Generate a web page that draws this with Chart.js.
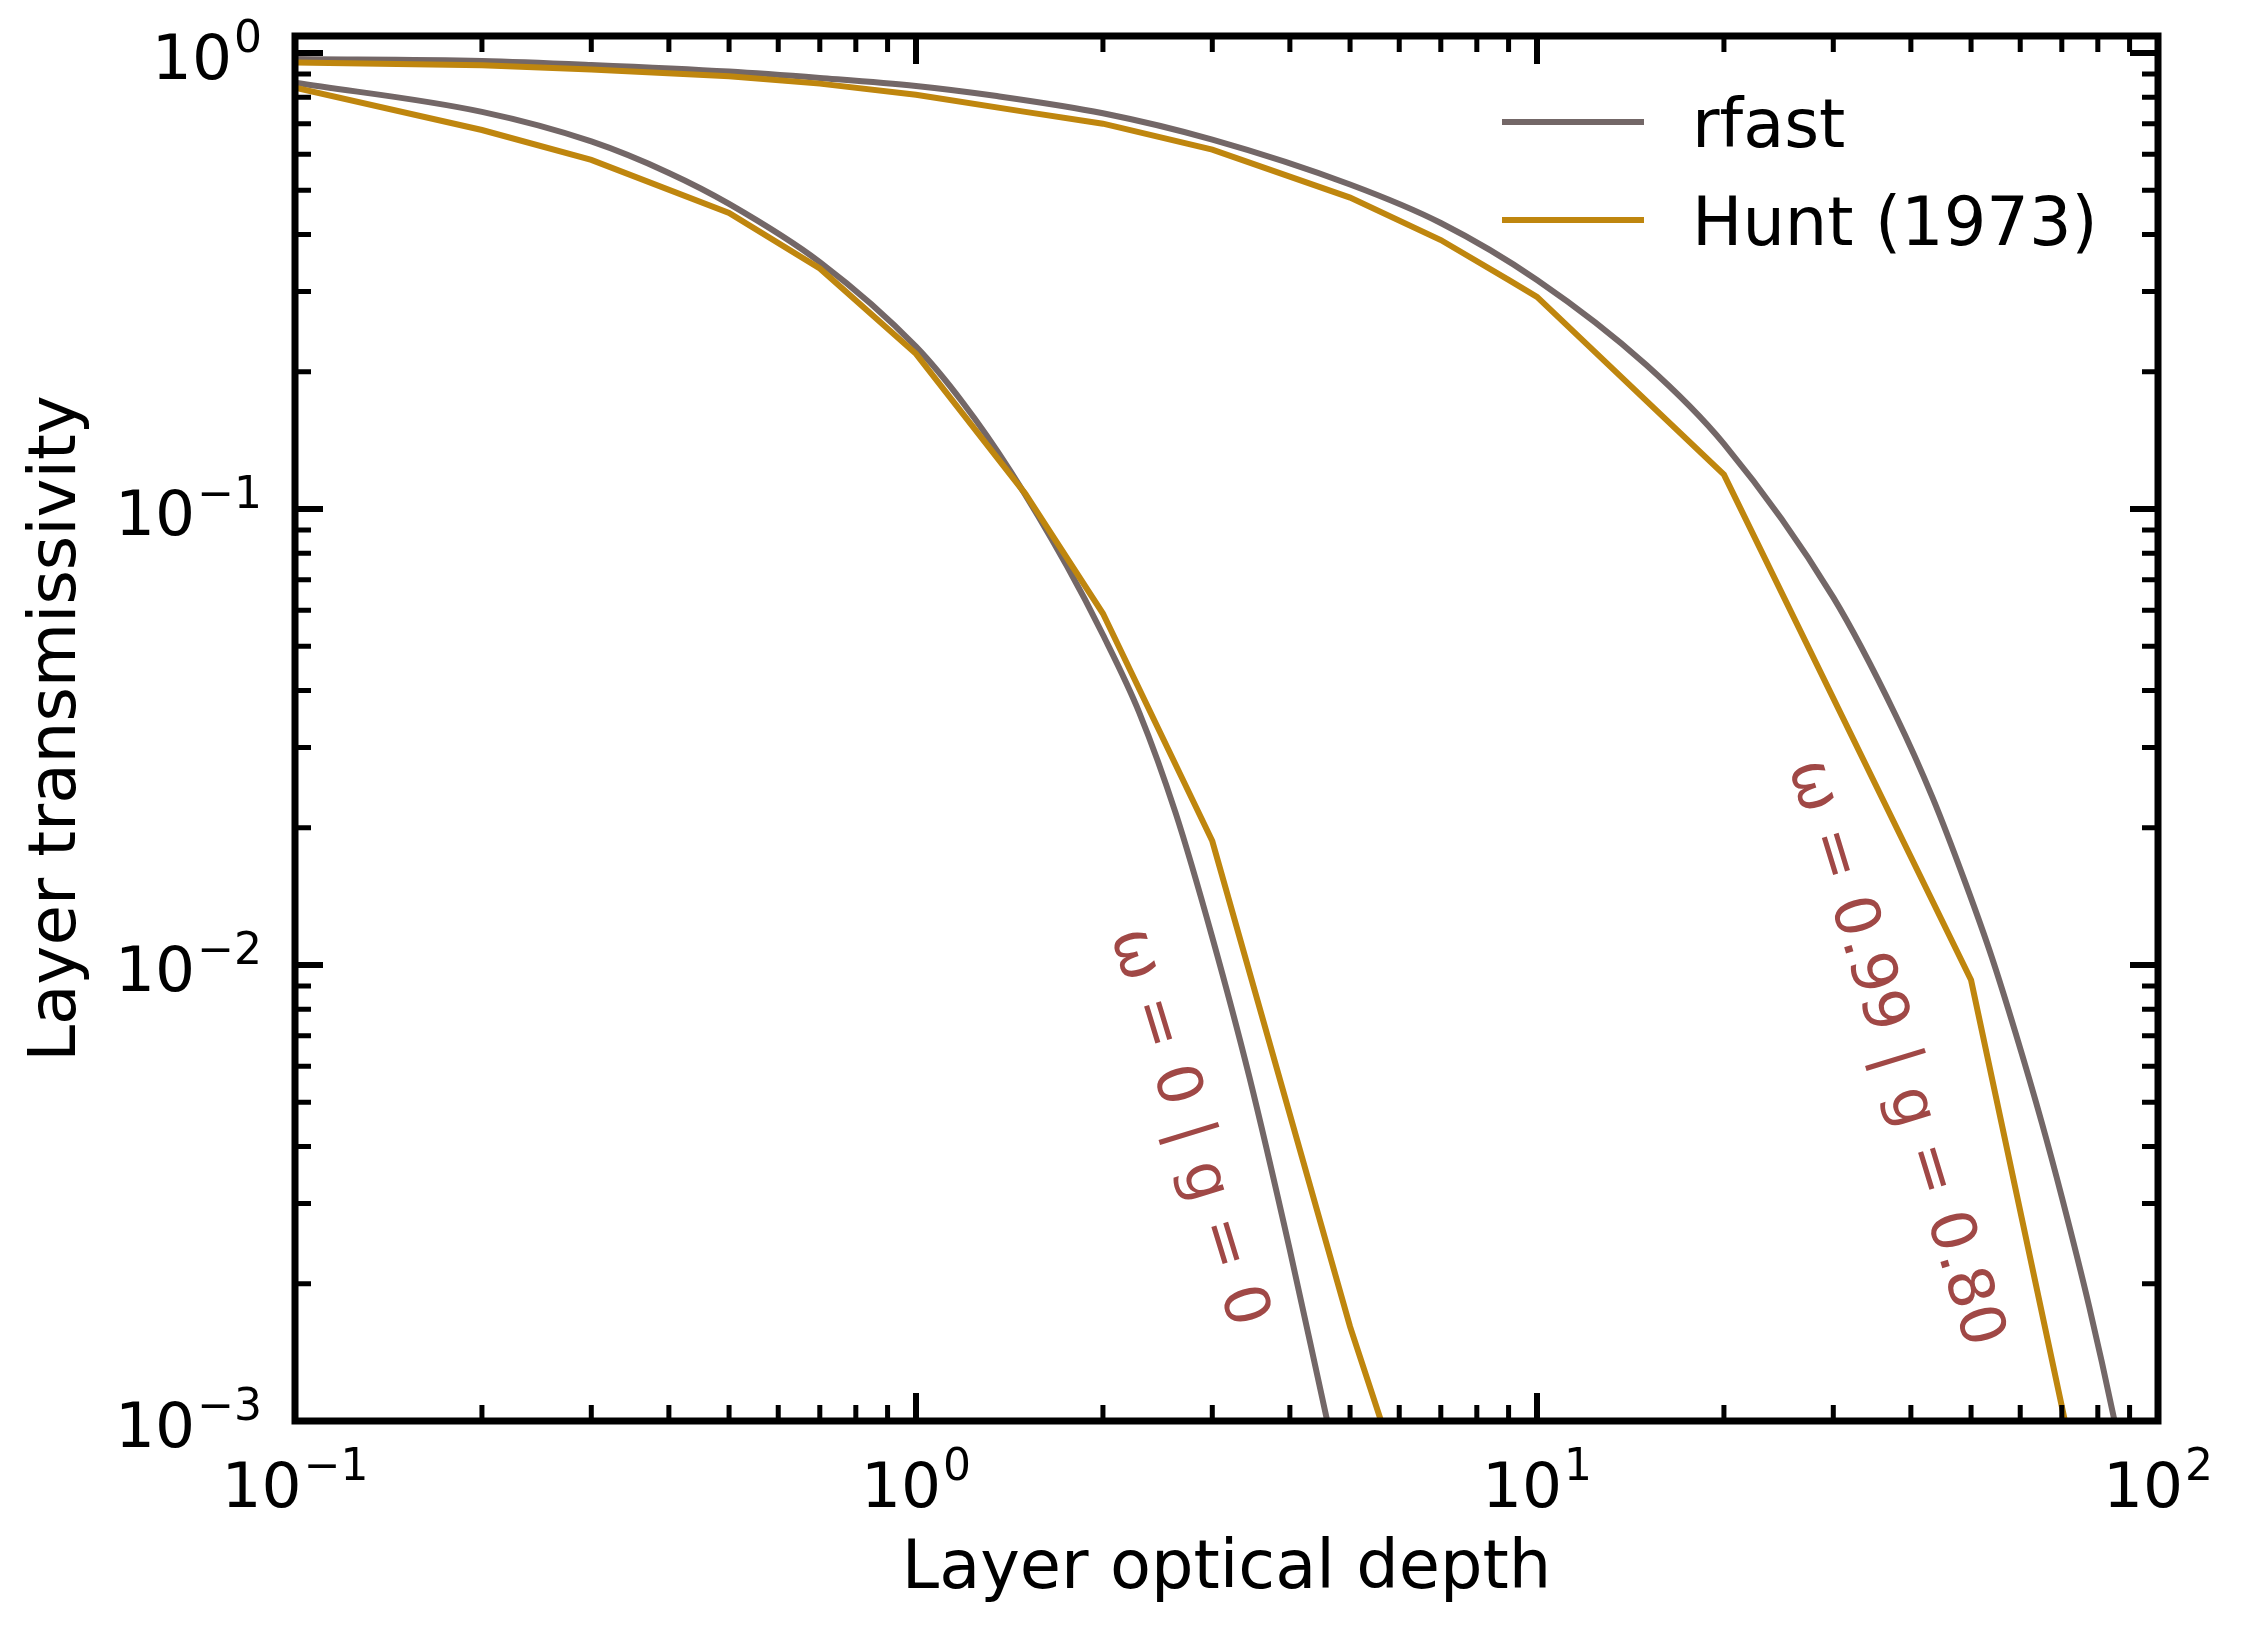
<!DOCTYPE html>
<html>
<head>
<meta charset="utf-8">
<script src="https://cdn.jsdelivr.net/npm/chart.js@4.4.1/dist/chart.umd.min.js"></script>
<style>
  html, body { margin: 0; padding: 0; background: #fff; }
  #wrap { width: 2242px; height: 1631px; }
</style>
</head>
<body>
<div id="wrap"><canvas id="chart" width="2242" height="1631"></canvas></div>
<script>
// rfast, omega = 0 | g = 0
const tauRfastA = [0.1, 0.2, 0.3, 0.4, 0.5, 0.7, 1.0, 1.19, 1.42, 1.75, 2.0, 2.29, 2.62, 3.0, 3.44, 4.0, 4.58, 5.0];
const transRfastA = [0.861, 0.743, 0.64, 0.546, 0.467, 0.348, 0.227, 0.171, 0.121, 0.075, 0.053, 0.0357, 0.0215, 0.0115, 0.0057, 0.00237, 0.00102, 0.0006];

// rfast, omega = 0.99 | g = 0.80
const tauRfastB = [0.1, 0.2, 0.3, 0.5, 0.7, 1.0, 1.34, 2.0, 3.0, 5.0, 7.0, 10, 15, 20, 30, 37.8, 43.4, 49, 54, 59, 65, 70, 77.5, 85, 100];
const transRfastB = [0.97, 0.961, 0.942, 0.911, 0.882, 0.847, 0.806, 0.738, 0.646, 0.515, 0.424, 0.318, 0.207, 0.139, 0.064, 0.0353, 0.0232, 0.0151, 0.0104, 0.00708, 0.00451, 0.0031, 0.00178, 0.00101, 0.00033];

// Hunt (1973) tables
const tauHuntA = [0.1, 0.2, 0.3, 0.5, 0.7, 1.0, 1.5, 2.0, 3.0, 5.0, 7.0];
const transHuntA = [0.84, 0.678, 0.583, 0.446, 0.337, 0.219, 0.108, 0.059, 0.0187, 0.00161, 0.0004];
const tauHuntB = [0.1, 0.2, 0.3, 0.5, 0.7, 1.0, 1.5, 2.0, 3.0, 5.0, 7.0, 9.0, 10, 20, 50, 100];
const transHuntB = [0.953, 0.94, 0.92, 0.89, 0.857, 0.81, 0.743, 0.70, 0.614, 0.482, 0.389, 0.318, 0.292, 0.119, 0.00927, 0.00011];

const xTicks = [0.1, 0.2, 0.3, 0.4, 0.5, 0.6, 0.7, 0.8, 0.9, 1, 2, 3, 4, 5, 6, 7, 8, 9, 10, 20, 30, 40, 50, 60, 70, 80, 90, 100];
const yTicks = [0.001, 0.002, 0.003, 0.004, 0.005, 0.006, 0.007, 0.008, 0.009,
                0.01, 0.02, 0.03, 0.04, 0.05, 0.06, 0.07, 0.08, 0.09,
                0.1, 0.2, 0.3, 0.4, 0.5, 0.6, 0.7, 0.8, 0.9, 1];

// curve labels, placed in data coordinates
const notes = [
    { text: 'ω = 0 | g = 0', tau: 2.73, trans: 0.0044 },
    { text: 'ω = 0.99 | g = 0.80', tau: 37.5, trans: 0.0064 },
];

const FONT = '"DejaVu Sans", sans-serif';
const GREY = '#736767';
const GOLD = '#bf860e';
const NOTE = '#a04846';

const pts = (xs, ys) => xs.map((v, i) => ({ x: v, y: ys[i] }));
const isPow10 = v => Math.abs(Math.log10(v) - Math.round(Math.log10(v))) < 1e-9;

// inward ticks on all four sides, frame, 10^n labels, legend and curve notes
const axesDecor = {
    id: 'axesDecor',
    afterDatasetsDraw(chart) {
        const { ctx, chartArea: a, scales: { x, y } } = chart;
        ctx.save();
        ctx.strokeStyle = '#000';
        ctx.lineCap = 'butt';

        x.ticks.forEach(t => {
            const px = x.getPixelForValue(t.value);
            const major = isPow10(t.value);
            const len = major ? 28 : 16;
            ctx.lineWidth = major ? 6 : 5;
            ctx.beginPath();
            ctx.moveTo(px, a.bottom); ctx.lineTo(px, a.bottom - len);
            ctx.moveTo(px, a.top); ctx.lineTo(px, a.top + len);
            ctx.stroke();
        });
        y.ticks.forEach(t => {
            const py = y.getPixelForValue(t.value);
            const major = isPow10(t.value);
            const len = major ? 28 : 16;
            ctx.lineWidth = major ? 6 : 5;
            ctx.beginPath();
            ctx.moveTo(a.left, py); ctx.lineTo(a.left + len, py);
            ctx.moveTo(a.right, py); ctx.lineTo(a.right - len, py);
            ctx.stroke();
        });

        ctx.lineWidth = 7;
        ctx.strokeRect(a.left, a.top, a.right - a.left, a.bottom - a.top);

        // tick labels as 10 with a raised exponent
        ctx.fillStyle = '#000';
        ctx.textBaseline = 'alphabetic';
        ctx.textAlign = 'left';
        const label = (v) => {
            const e = Math.round(Math.log10(v));
            const exp = e < 0 ? '\u2212' + (-e) : String(e);
            ctx.font = '63px ' + FONT;
            const wb = ctx.measureText('10').width;
            ctx.font = '44px ' + FONT;
            const we = ctx.measureText(exp).width;
            return { exp, wb, we, total: wb + we + 2 };
        };
        const drawLabel = (l, x0, base) => {
            ctx.font = '63px ' + FONT;
            ctx.fillText('10', x0, base);
            ctx.font = '44px ' + FONT;
            ctx.fillText(l.exp, x0 + l.wb + 2, base - 27);
        };
        x.ticks.filter(t => isPow10(t.value)).forEach(t => {
            const l = label(t.value);
            drawLabel(l, x.getPixelForValue(t.value) - l.total / 2, a.bottom + 86);
        });
        y.ticks.filter(t => isPow10(t.value)).forEach(t => {
            const l = label(t.value);
            drawLabel(l, a.left - 33 - l.total, y.getPixelForValue(t.value) + 26);
        });

        // legend
        const entries = [0, 2].map(i => chart.data.datasets[i]);
        entries.forEach((ds, i) => {
            const ly = a.top + 86 + i * 98;
            ctx.strokeStyle = ds.borderColor;
            ctx.lineWidth = 6;
            ctx.beginPath();
            ctx.moveTo(a.right - 656, ly);
            ctx.lineTo(a.right - 514, ly);
            ctx.stroke();
            ctx.fillStyle = '#000';
            ctx.font = '67px ' + FONT;
            ctx.fillText(ds.label, a.right - 466, ly + 25);
        });

        // rotated notes along the curves
        ctx.fillStyle = NOTE;
        ctx.font = '62px ' + FONT;
        ctx.textAlign = 'center';
        ctx.textBaseline = 'middle';
        notes.forEach(n => {
            ctx.save();
            ctx.translate(x.getPixelForValue(n.tau), y.getPixelForValue(n.trans));
            ctx.rotate(73 * Math.PI / 180);
            ctx.fillText(n.text, 0, 0);
            ctx.restore();
        });
        ctx.restore();
    }
};

const line = (label, data, color, smooth, order) => ({
    label: label,
    data: data,
    borderColor: color,
    backgroundColor: color,
    borderWidth: 6,
    pointRadius: 0,
    fill: false,
    clip: 0,
    order: order,
    cubicInterpolationMode: smooth ? 'monotone' : 'default',
    tension: 0,
});

new Chart(document.getElementById('chart'), {
    type: 'line',
    data: {
        datasets: [
            line('rfast', pts(tauRfastA, transRfastA), GREY, true, 2),
            line('rfast', pts(tauRfastB, transRfastB), GREY, true, 2),
            line('Hunt (1973)', pts(tauHuntA, transHuntA), GOLD, false, 1),
            line('Hunt (1973)', pts(tauHuntB, transHuntB), GOLD, false, 1),
        ],
    },
    options: {
        responsive: false,
        devicePixelRatio: 1,
        animation: false,
        events: [],
        layout: { padding: { top: 36, right: 84, left: 0, bottom: 0 } },
        plugins: {
            legend: { display: false },
            tooltip: { enabled: false },
        },
        scales: {
            x: {
                type: 'logarithmic',
                position: 'bottom',
                min: 0.1,
                max: 100,
                afterBuildTicks: s => { s.ticks = xTicks.map(v => ({ value: v })); },
                afterFit: s => { s.height = 210; },
                grid: { display: false },
                border: { display: false },
                ticks: { display: false },
                title: {
                    display: true,
                    text: 'Layer optical depth',
                    color: '#000',
                    font: { family: FONT, size: 67 },
                    padding: { top: 0, bottom: 20 },
                },
            },
            y: {
                type: 'logarithmic',
                position: 'left',
                min: 0.001,
                max: 1.09,
                afterBuildTicks: s => { s.ticks = yTicks.map(v => ({ value: v })); },
                afterFit: s => { s.width = 295; },
                grid: { display: false },
                border: { display: false },
                ticks: { display: false },
                title: {
                    display: true,
                    text: 'Layer transmissivity',
                    color: '#000',
                    font: { family: FONT, size: 66 },
                    padding: { top: 18, bottom: 0 },
                },
            },
        },
    },
    plugins: [axesDecor],
});
</script>
</body>
</html>
